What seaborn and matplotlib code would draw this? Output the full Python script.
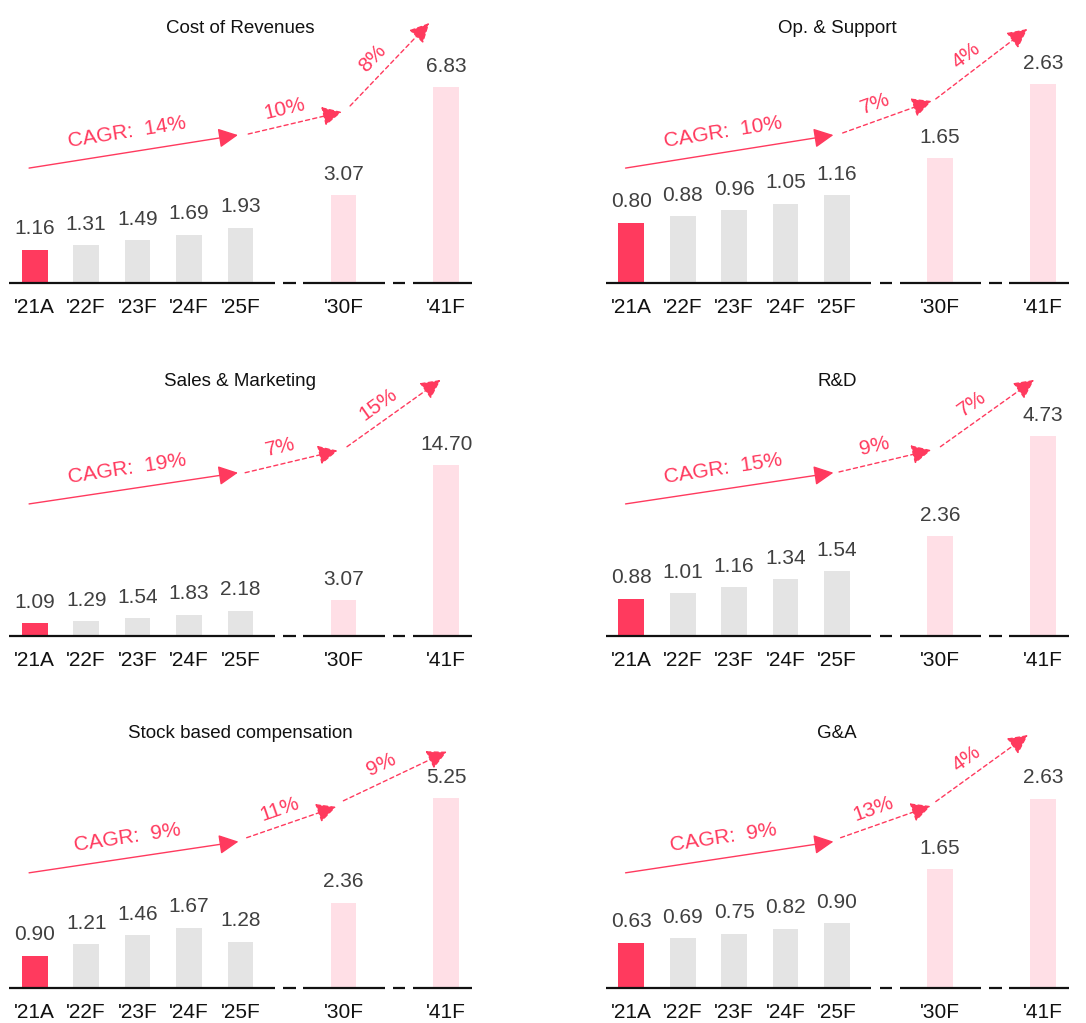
import math
import matplotlib
matplotlib.use("Agg")
import matplotlib.pyplot as plt
import pandas as pd
import seaborn as sns
from matplotlib.patches import FancyArrowPatch

# ---- data -------------------------------------------------------------
years = ["'21A", "'22F", "'23F", "'24F", "'25F", "'30F", "'41F"]
period = ["actual", "near", "near", "near", "near", "long", "long"]

cost_of_revenues = [1.16, 1.31, 1.49, 1.69, 1.93, 3.07, 6.83]
op_support = [0.80, 0.88, 0.96, 1.05, 1.16, 1.65, 2.63]
sales_marketing = [1.09, 1.29, 1.54, 1.83, 2.18, 3.07, 14.70]
r_and_d = [0.88, 1.01, 1.16, 1.34, 1.54, 2.36, 4.73]
stock_comp = [0.90, 1.21, 1.46, 1.67, 1.28, 2.36, 5.25]
g_and_a = [0.63, 0.69, 0.75, 0.82, 0.90, 1.65, 2.63]

titles = ["Cost of Revenues", "Op. & Support", "Sales & Marketing",
          "R&D", "Stock based compensation", "G&A"]
series = [cost_of_revenues, op_support, sales_marketing,
          r_and_d, stock_comp, g_and_a]

cagr_cost = ["CAGR:  14%", "10%", "8%"]
cagr_op = ["CAGR:  10%", "7%", "4%"]
cagr_sales = ["CAGR:  19%", "7%", "15%"]
cagr_rd = ["CAGR:  15%", "9%", "7%"]
cagr_sbc = ["CAGR:  9%", "11%", "9%"]
cagr_ga = ["CAGR:  9%", "13%", "4%"]
cagr_labels = [cagr_cost, cagr_op, cagr_sales, cagr_rd, cagr_sbc, cagr_ga]

# ---- layout -----------------------------------------------------------
positions = [0, 1, 2, 3, 4, 6, 8]          # gaps mark the jumps to '30 and '41
axis_top = [9.08, 3.44, 22.4, 6.16, 7.2, 3.61]

# broken baseline: segments under the bar groups, short dashes in the gaps
base_start = [-0.5, 4.83, 5.22, 6.96, 7.35]
base_end = [4.67, 5.07, 6.80, 7.20, 8.50]

# arrow end points: x in bar units, y as fraction of the axes height
arrow_paths = [
    [((-0.11, 0.442), (3.95, 0.569)), ((4.15, 0.573), (5.97, 0.658)), ((6.13, 0.681), (7.67, 1.000))],
    [((-0.11, 0.442), (3.93, 0.569)), ((4.11, 0.577), (5.84, 0.700)), ((5.92, 0.708), (7.70, 0.977))],
    [((-0.11, 0.508), (3.95, 0.628)), ((4.09, 0.628), (5.89, 0.713)), ((6.07, 0.728), (7.89, 0.985))],
    [((-0.11, 0.508), (3.93, 0.628)), ((4.04, 0.631), (5.83, 0.715)), ((6.01, 0.728), (7.83, 0.985))],
    [((-0.11, 0.443), (3.96, 0.563)), ((4.12, 0.578), (5.86, 0.697)), ((6.00, 0.720), (8.01, 0.909))],
    [((-0.11, 0.443), (3.93, 0.563)), ((4.07, 0.578), (5.82, 0.700)), ((5.92, 0.717), (7.71, 0.973))],
]

RED = "#FF3A5E"
GREY = "#E4E4E4"
PINK = "#FFDFE6"
palette = {"actual": RED, "near": GREY, "long": PINK}

sns.set_theme(style="white")
plt.rcParams["font.family"] = ["Liberation Sans", "DejaVu Sans"]

W, H = 1086, 1023
fig = plt.figure(figsize=(W / 100, H / 100), dpi=100)

col_left = [9 / W, 605.5 / W]
row_base = [283, 636, 988]
ax_w = 463 / W
ax_h = 260 / H
FS = 15

for i, (title, values) in enumerate(zip(titles, series)):
    r, c = divmod(i, 2)
    ax = fig.add_axes([col_left[c], (H - row_base[r]) / H, ax_w, ax_h])

    df = pd.DataFrame({"pos": positions, "value": values, "period": period})
    sns.barplot(data=df, x="pos", y="value", hue="period", palette=palette,
                native_scale=True, width=0.5, saturation=1, errorbar=None,
                legend=False, linewidth=0, ax=ax)

    ax.set_xlim(-0.5, 8.5)
    ax.set_ylim(0, axis_top[i])
    ax.set_xlabel("")
    ax.set_ylabel("")
    ax.set_yticks([])
    ax.set_xticks(positions, years)
    ax.tick_params(axis="x", length=0, pad=10.5, labelsize=FS, colors="#111111")
    for sp in ax.spines.values():
        sp.set_visible(False)

    ax.hlines([0] * len(base_start), base_start, base_end, color="#111111", lw=1.6,
              clip_on=False, zorder=5)

    # value labels
    for x, v in zip(positions, values):
        ax.annotate(f"{v:.2f}", (x, v), xytext=(0, 15.5), textcoords="offset pixels",
                    ha="center", va="baseline", fontsize=FS, color="#404040")

    ax.text(0.5, 0.962, title, transform=ax.transAxes, ha="center",
            va="baseline", fontsize=13.5, color="#111111")

    # growth arrows with their labels
    tr = ax.get_xaxis_transform()
    for k, ((p0, p1), lab) in enumerate(zip(arrow_paths[i], cagr_labels[i])):
        solid = k == 0
        arr = FancyArrowPatch(p0, p1, transform=tr,
                              arrowstyle="-|>,head_length=1.2,head_width=0.6",
                              mutation_scale=10, color=RED, lw=1.0,
                              linestyle="-" if solid else (0, (3, 2.3)),
                              shrinkA=0, shrinkB=0, clip_on=False, zorder=6)
        ax.add_patch(arr)
        a = tr.transform(p0)
        b = tr.transform(p1)
        ang = math.degrees(math.atan2(b[1] - a[1], b[0] - a[0]))
        rad = math.radians(ang)
        off = 15 if solid else 11
        back = 3 if solid else 7
        ox = -off * math.sin(rad) - back * math.cos(rad)
        oy = off * math.cos(rad) - back * math.sin(rad)
        mid = ((p0[0] + p1[0]) / 2, (p0[1] + p1[1]) / 2)
        ax.annotate(lab, mid, xycoords=tr, xytext=(ox, oy), textcoords="offset pixels",
                    rotation=ang, rotation_mode="anchor", ha="center", va="baseline",
                    fontsize=FS, color=RED, annotation_clip=False)

fig.savefig("out.png", dpi=100)
